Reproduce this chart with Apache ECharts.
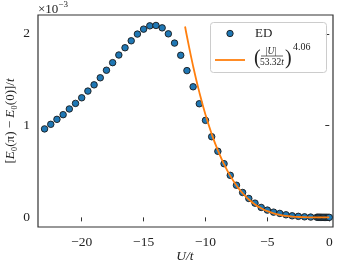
<!DOCTYPE html>
<html>
<head>
<meta charset="utf-8">
<script src="https://cdn.jsdelivr.net/npm/echarts@6/dist/echarts.min.js"></script>
<style>
html,body{margin:0;padding:0;background:#fff;}
#c{width:340px;height:271px;}
</style>
</head>
<body>
<div id="c"></div>
<script>
// ED data: U/t and [E0(pi)-E0(0)]/t in units of 1e-3
var edU = [-23, -22.5, -22, -21.5, -21, -20.5, -20, -19.5, -19, -18.5, -18, -17.5, -17, -16.5, -16, -15.5,
  -15, -14.5, -14, -13.5, -13, -12.5, -12, -11.5, -11, -10.5, -10, -9.5, -9, -8.5, -8, -7.5, -7, -6.5,
  -6, -5.5, -5, -4.5, -4, -3.5, -3, -2.5, -2, -1.5,
  -1.0, -0.9, -0.8, -0.7, -0.6, -0.5, -0.4, -0.3, -0.2, -0.1, 0];
var edVal = [0.964, 1.014, 1.068, 1.119, 1.181, 1.242, 1.303, 1.376, 1.444, 1.521, 1.603, 1.686, 1.769, 1.848, 1.924, 1.997,
  2.051, 2.087, 2.091, 2.065, 2.000, 1.899, 1.766, 1.599, 1.423, 1.238, 1.057, 0.879, 0.720, 0.585, 0.458, 0.350, 0.271, 0.206,
  0.155, 0.108, 0.079, 0.057, 0.043, 0.028, 0.017, 0.011, 0.006, 0.003,
  0.0015, 0.0012, 0.0009, 0.0007, 0.0005, 0.0003, 0.0002, 0.0001, 0.00005, 0.00002, 0];
// Fit curve (|U|/53.32t)^4.06, tabulated values in units of 1e-3
var fitU = [-11.65, -11.5, -11, -10.5, -10, -9.5, -9, -8.5, -8, -7.5, -7, -6.5, -6, -5.5, -5, -4.5, -4, -3.5, -3, -2.5, -2, -1.5, -1, -0.5, 0];
var fitVal = [2.080, 1.9735, 1.6478, 1.3644, 1.1191, 0.9087, 0.7296, 0.5785, 0.4523, 0.3480, 0.2630, 0.1947, 0.1406, 0.0988,
  0.0671, 0.0437, 0.0271, 0.0158, 0.00843, 0.00402, 0.00163, 0.000506, 0.0000977, 0.0000059, 0];
var xTicks = [-20, -15, -10, -5, 0];
var yTicks = [0, 1, 2];

var serif = '"Liberation Serif", "DejaVu Serif", serif';
function minus(v){ return String(v).replace('-', '\u2212'); }

var chart = echarts.init(document.getElementById('c'), null, {renderer: 'canvas'});
var edData = edU.map(function(u, i){ return [u, edVal[i]]; });
var fitData = fitU.map(function(u, i){ return [u, fitVal[i]]; });

chart.setOption({
  animation: false,
  backgroundColor: '#fff',
  grid: {left: 38, right: 7, top: 15, bottom: 44, show: true, borderColor: '#333', borderWidth: 1.2, backgroundColor: 'transparent'},
  xAxis: {
    type: 'value', min: -23.53, max: 0.3,
    axisLine: {show: false},
    splitLine: {show: false},
    axisTick: {show: true, inside: false, length: 4, customValues: xTicks, lineStyle: {color: '#333', width: 1}},
    axisLabel: {customValues: xTicks, margin: 8, fontFamily: serif, fontSize: 13.5, color: '#222', formatter: function(v){ return minus(v); }}
  },
  yAxis: {
    type: 'value', min: -0.105, max: 2.205,
    axisLine: {show: false},
    splitLine: {show: false},
    axisTick: {show: true, inside: false, length: 4, customValues: yTicks, lineStyle: {color: '#333', width: 1}},
    axisLabel: {customValues: yTicks, margin: 8, fontFamily: serif, fontSize: 13.5, color: '#222', formatter: function(v){ return minus(v); }}
  },
  series: [
    {type: 'scatter', name: 'ED', data: edData, symbol: 'circle', symbolSize: 6.5,
     itemStyle: {color: '#1f77b4', borderColor: '#1a1a1a', borderWidth: 0.9, opacity: 1}, z: 2},
    {type: 'line', name: 'fit', data: fitData, smooth: true, showSymbol: false, symbol: 'none',
     lineStyle: {color: '#ff7f0e', width: 1.8}, z: 3}
  ],
  graphic: [
    {type: 'text', left: 38, top: 0, style: {
      text: '{a|\u00d710}{b|\u22123}', fontFamily: serif,
      rich: {a: {fontSize: 13, fontFamily: serif, fill: '#222', padding: [5, 0, 0, 0]}, b: {fontSize: 9, fontFamily: serif, fill: '#222', padding: [0, 0, 6, 0]}}
    }},
    {type: 'text', x: 11, y: 121, rotation: Math.PI / 2, style: {
      text: '[{i|E}\u2080(\u03c0) \u2212 {i|E}\u2080(0)]/{i|t}', fontFamily: serif, fontSize: 13, fill: '#222',
      align: 'center', verticalAlign: 'middle',
      rich: {i: {fontStyle: 'italic', fontFamily: serif, fontSize: 13, fill: '#222'}}
    }},
    {type: 'text', x: 185, y: 256, style: {
      text: 'U/t', fontFamily: serif, fontStyle: 'italic', fontSize: 13.5, fill: '#222', align: 'center', verticalAlign: 'middle'
    }},
    {type: 'rect', shape: {x: 210.5, y: 22.5, width: 116, height: 50, r: 3},
     style: {fill: 'rgba(255,255,255,0.85)', stroke: '#cccccc', lineWidth: 1}, z: 10},
    {type: 'circle', shape: {cx: 230, cy: 33.5, r: 3.2}, style: {fill: '#1f77b4', stroke: '#1a1a1a', lineWidth: 0.9}, z: 11},
    {type: 'text', x: 255, y: 34, style: {text: 'ED', fontFamily: serif, fontSize: 13, fill: '#222', verticalAlign: 'middle'}, z: 11},
    {type: 'line', shape: {x1: 215, y1: 60, x2: 245, y2: 60}, style: {stroke: '#ff7f0e', lineWidth: 1.8}, z: 11},
    {type: 'text', x: 254, y: 59, style: {text: '(', fontFamily: serif, fontSize: 20, fill: '#222', verticalAlign: 'middle'}, z: 11},
    {type: 'text', x: 271, y: 51, style: {text: '|{i|U}|', fontFamily: serif, fontSize: 9.5, fill: '#222', align: 'center', verticalAlign: 'middle',
      rich: {i: {fontStyle: 'italic', fontFamily: serif, fontSize: 9.5, fill: '#222'}}}, z: 11},
    {type: 'line', shape: {x1: 261, y1: 56, x2: 283, y2: 56}, style: {stroke: '#222', lineWidth: 0.7}, z: 11},
    {type: 'text', x: 272, y: 62, style: {text: '53.32{i|t}', fontFamily: serif, fontSize: 9.5, fill: '#222', align: 'center', verticalAlign: 'middle',
      rich: {i: {fontStyle: 'italic', fontFamily: serif, fontSize: 9.5, fill: '#222'}}}, z: 11},
    {type: 'text', x: 285, y: 59, style: {text: ')', fontFamily: serif, fontSize: 20, fill: '#222', verticalAlign: 'middle'}, z: 11},
    {type: 'text', x: 293, y: 47, style: {text: '4.06', fontFamily: serif, fontSize: 10, fill: '#222', verticalAlign: 'middle'}, z: 11}
  ]
});
</script>
</body>
</html>
